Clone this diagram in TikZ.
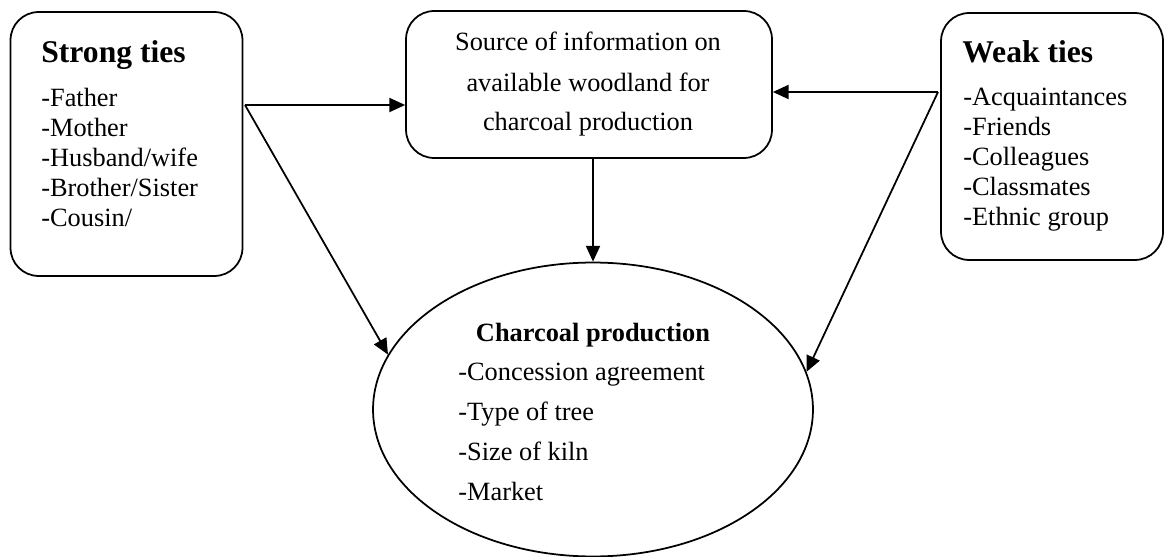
\documentclass[tikz,border=0pt]{standalone}
\usepackage{fontspec}
\setmainfont{Liberation Serif}
\usetikzlibrary{shapes.geometric,arrows.meta}

\begin{document}
\begin{tikzpicture}[x=0.02cm,y=-0.02cm,
  box/.style={draw,line width=1pt,rounded corners=16pt,inner sep=0pt},
  head/.style={font=\fontsize{18}{20}\selectfont\bfseries,anchor=base west,inner sep=0pt},
  item/.style={font=\fontsize{15}{17}\selectfont,anchor=base west,inner sep=0pt},
  link/.style={line width=1pt,-{Triangle[length=9pt,width=8pt]}}]
\useasboundingbox (0,0) rectangle (1166,557);

% Strong ties box
\node[box,minimum width=4.64cm,minimum height=5.28cm] (strong) at (126.5,144) {};
\node[head] (stronghead) at (41,63) {Strong ties};
\foreach \t [count=\i] in {Father,Mother,Husband/wife,Brother/Sister,Cousin/}
  \node[item] (s\i) at (41,77+30*\i) {-\t};

% Source of information
\node[box,minimum width=7.32cm,minimum height=2.94cm] (src) at (589,84.5) {};
\node[item,anchor=base] (src1) at (588,51) {Source of information on};
\node[item,anchor=base] (src2) at (588,92) {available woodland for};
\node[item,anchor=base] (src3) at (588,131) {charcoal production};

% Weak ties box
\node[box,minimum width=4.44cm,minimum height=4.94cm] (weak) at (1052,136.5) {};
\node[head] (weakhead) at (962,63) {Weak ties};
\foreach \t [count=\i] in {Acquaintances,Friends,Colleagues,Classmates,Ethnic group}
  \node[item] (w\i) at (963,76+30*\i) {-\t};

% Charcoal production
\node[draw,ellipse,line width=1pt,inner sep=0pt,minimum width=8.8cm,minimum height=5.88cm] (prod) at (593,409.5) {};
\node[head,font=\fontsize{15}{17}\selectfont\bfseries,anchor=base] (prodhead) at (593,341) {Charcoal production};
\foreach \t [count=\i] in {Concession agreement,Type of tree,Size of kiln,Market}
  \node[item] (p\i) at (458,340+40*\i) {-\t};

% Links
\coordinate (sj) at (245,105);
\coordinate (wj) at (938,92);
\draw[link] (sj) -- (sj -| src.west);
\draw[link] (sj) -- (prod.165.5);
\draw[link] (wj) -- (wj -| src.east);
\draw[link] (wj) -- (prod.10.6);
\draw[link] (prod.north |- src.south) -- (prod.north);
\end{tikzpicture}
\end{document}
